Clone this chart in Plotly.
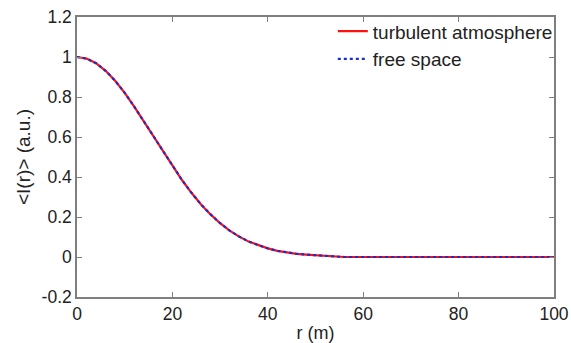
import plotly.graph_objects as go

r_vals = [0, 2, 4, 6, 8, 10, 12, 14, 16, 18, 20, 22, 24, 26, 28, 30, 32, 34, 36, 38,
          40, 42, 44, 46, 48, 50, 52, 54, 56, 60, 65, 70, 75, 80, 85, 90, 95, 100]
turbulent = [1.0, 0.992, 0.969, 0.931, 0.881, 0.821, 0.752, 0.679, 0.603, 0.527, 0.454,
             0.385, 0.321, 0.263, 0.213, 0.169, 0.132, 0.102, 0.077, 0.058, 0.043, 0.031,
             0.022, 0.016, 0.012, 0.009, 0.005, 0.002, 0.0, 0.0, 0.0, 0.0, 0.0, 0.0, 0.0,
             0.0, 0.0, 0.0]
free_space = [1.0, 0.992, 0.969, 0.931, 0.881, 0.821, 0.752, 0.679, 0.603, 0.527, 0.454,
              0.385, 0.321, 0.263, 0.213, 0.169, 0.132, 0.102, 0.077, 0.058, 0.043, 0.031,
              0.022, 0.016, 0.012, 0.009, 0.005, 0.002, 0.0, 0.0, 0.0, 0.0, 0.0, 0.0, 0.0,
              0.0, 0.0, 0.0]

x_ticks = [0, 20, 40, 60, 80, 100]
x_ticklabels = ["0", "20", "40", "60", "80", "100"]
y_ticks = [-0.2, 0, 0.2, 0.4, 0.6, 0.8, 1.0, 1.2]
y_ticklabels = ["-0.2", "0", "0.2", "0.4", "0.6", "0.8", "1", "1.2"]

FONT = "Liberation Sans, Arial, sans-serif"

fig = go.Figure()
fig.add_trace(go.Scatter(x=r_vals, y=turbulent, mode="lines", name="turbulent atmosphere",
                         line=dict(color="#ff1010", width=2.2)))
fig.add_trace(go.Scatter(x=r_vals, y=free_space, mode="lines", name="free space",
                         line=dict(color="#1a2ccc", width=2.2, dash="dot")))

axis_common = dict(showline=True, linecolor="#7f7f7f", linewidth=1.5, mirror="allticks",
                   ticks="inside", ticklen=5, tickcolor="#7f7f7f", tickwidth=1,
                   showgrid=False, zeroline=False, automargin=False,
                   tickfont=dict(family=FONT, size=17.5, color="#222222"))

fig.update_layout(
    width=571, height=343,
    margin=dict(l=77, r=17, t=15, b=46),
    paper_bgcolor="white", plot_bgcolor="white",
    font=dict(family=FONT, color="#222222"),
    xaxis=dict(range=[0, 100], tickvals=x_ticks, ticktext=x_ticklabels,
               title=dict(text="r (m)", font=dict(family=FONT, size=18), standoff=5),
               **axis_common),
    yaxis=dict(range=[-0.2, 1.2], tickvals=y_ticks, ticktext=y_ticklabels,
               title=dict(text="<I(r)> (a.u.)", font=dict(family=FONT, size=19), standoff=6),
               **axis_common),
    legend=dict(x=1.008, y=1.017, xanchor="right", yanchor="top", bgcolor="rgba(0,0,0,0)",
                font=dict(family=FONT, size=19, color="#222222"),
                tracegroupgap=0, itemwidth=30),
    showlegend=True,
)

fig.write_html("out.html", config={"displayModeBar": False},
               post_script="document.body.style.margin='0';document.body.style.overflow='hidden';")
